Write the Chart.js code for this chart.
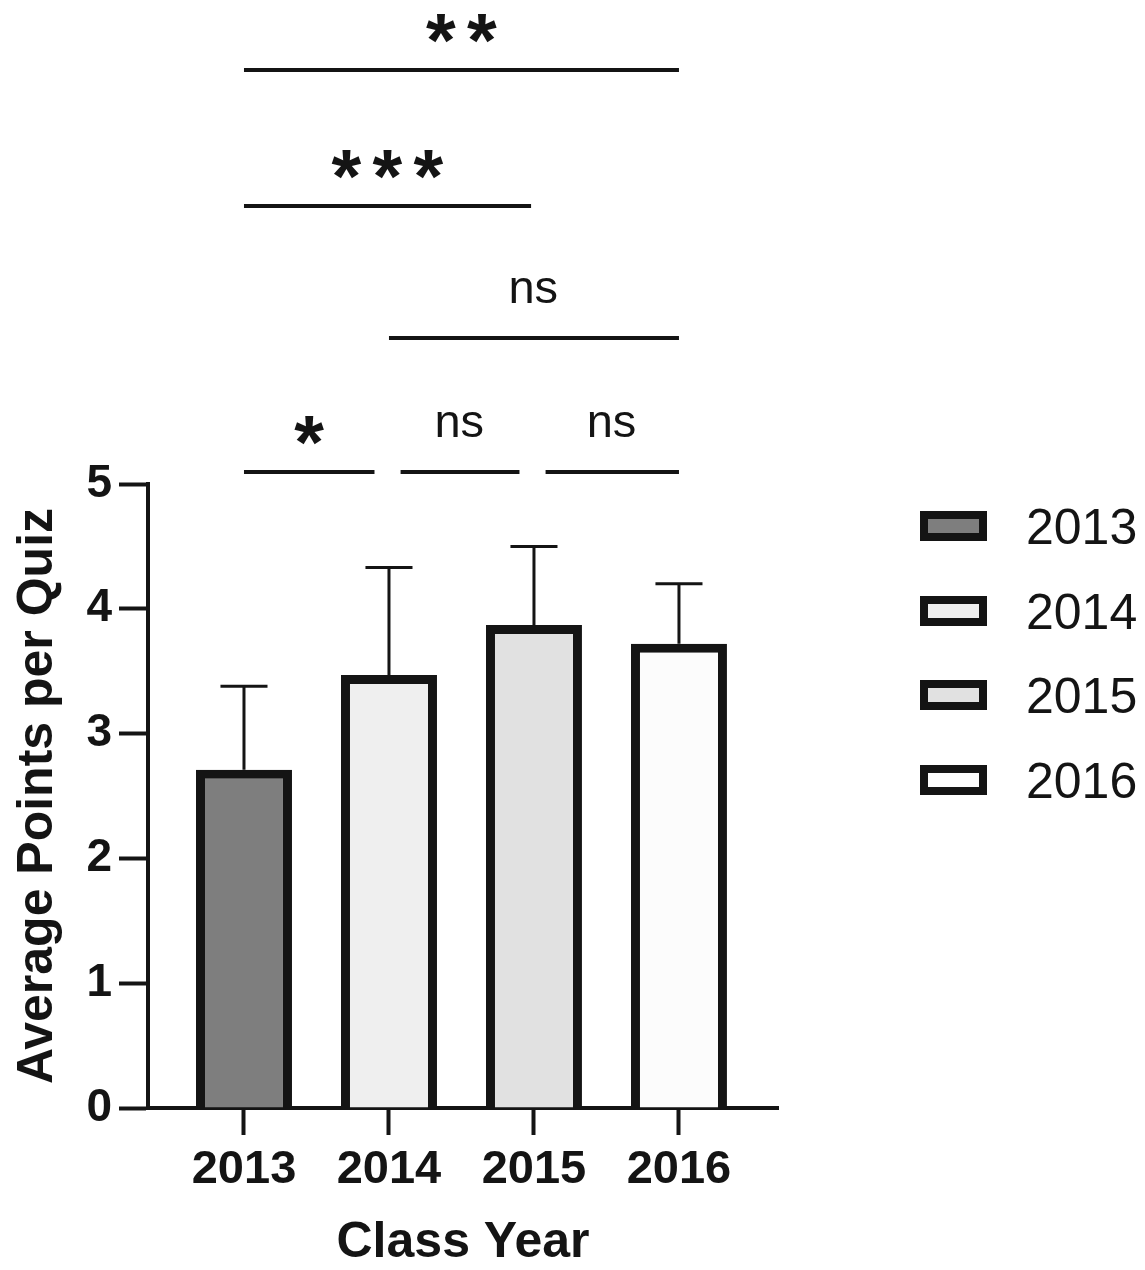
<!DOCTYPE html>
<html>
<head>
<meta charset="utf-8">
<script src="https://cdn.jsdelivr.net/npm/chart.js@4/dist/chart.umd.min.js"></script>
<style>
html,body{margin:0;padding:0;background:#ffffff;}
#wrap{width:1145px;height:1270px;position:relative;}
</style>
</head>
<body>
<div id="wrap"><canvas id="c" width="1145" height="1270"></canvas></div>
<script>
// ---- data ----
const years = ['2013', '2014', '2015', '2016'];
const means = [2.71, 3.47, 3.87, 3.72];
const errs = [0.67, 0.86, 0.63, 0.48];
const fills = ['#7e7e7e', '#efefef', '#e1e1e1', '#fcfcfc'];
const yTicks = [0, 1, 2, 3, 4, 5];
// significance comparisons (positions in category units / value units)
const sigLabels = ['*', 'ns', 'ns', 'ns', '***', '**'];
const sigFrom = [0, 1.08, 2.08, 1, 0, 0];
const sigTo = [0.9, 1.9, 3, 3, 1.98, 3];
const sigLevel = [5.10, 5.10, 5.10, 6.17, 7.23, 8.32];

const FONT = '"Liberation Sans", Arial, Helvetica, sans-serif';
const INK = '#141414';

function drawCenteredGlyphs(ctx, text, cx, cy) {
  const m = ctx.measureText(text);
  const y = cy + (m.actualBoundingBoxAscent - m.actualBoundingBoxDescent) / 2;
  const x = cx + (m.actualBoundingBoxLeft - m.actualBoundingBoxRight) / 2;
  ctx.textAlign = 'left';
  ctx.textBaseline = 'alphabetic';
  ctx.fillText(text, x, y);
}

const errorBars = {
  id: 'errorBars',
  afterDatasetsDraw(chart) {
    const ctx = chart.ctx;
    const ys = chart.scales.y;
    const meta = chart.getDatasetMeta(0);
    ctx.save();
    ctx.strokeStyle = INK;
    ctx.lineWidth = 3;
    meta.data.forEach((bar, i) => {
      const top = ys.getPixelForValue(means[i] + errs[i]);
      const half = bar.width * 0.245;
      ctx.beginPath();
      ctx.moveTo(bar.x, bar.y);
      ctx.lineTo(bar.x, top);
      ctx.moveTo(bar.x - half, top);
      ctx.lineTo(bar.x + half, top);
      ctx.stroke();
    });
    ctx.restore();
  }
};

const significance = {
  id: 'significance',
  afterDraw(chart) {
    const ctx = chart.ctx;
    const xs = chart.scales.x, ys = chart.scales.y;
    ctx.save();
    ctx.strokeStyle = INK;
    ctx.fillStyle = INK;
    ctx.lineWidth = 4;
    sigLabels.forEach((lab, i) => {
      const x1 = xs.getPixelForValue(sigFrom[i]);
      const x2 = xs.getPixelForValue(sigTo[i]);
      const y = Math.round(ys.getPixelForValue(sigLevel[i]));
      ctx.beginPath();
      ctx.moveTo(x1, y);
      ctx.lineTo(x2, y);
      ctx.stroke();
      const cx = (x1 + x2) / 2;
      if (lab.startsWith('*')) {
        ctx.font = 'bold 100px ' + FONT;
        const m = ctx.measureText('*');
        const h = m.actualBoundingBoxAscent + m.actualBoundingBoxDescent;
        const size = 100 * 29 / h;
        ctx.font = 'bold ' + size.toFixed(1) + 'px ' + FONT;
        const n = lab.length;
        for (let k = 0; k < n; k++) {
          const gx = cx + (k - (n - 1) / 2) * 41;
          drawCenteredGlyphs(ctx, '*', gx, y - 42);
        }
      } else {
        ctx.font = '47px ' + FONT;
        drawCenteredGlyphs(ctx, lab, cx, y - 48);
      }
    });
    ctx.restore();
  }
};

const customLegend = {
  id: 'customLegend',
  afterDraw(chart) {
    const ctx = chart.ctx;
    const boxX = 920, boxW = 67, boxH = 30, border = 8;
    const y0 = 526, step = 84.7;
    ctx.save();
    ctx.font = '50px ' + FONT;
    years.forEach((lab, i) => {
      const cy = y0 + i * step;
      const top = Math.round(cy - boxH / 2);
      ctx.fillStyle = INK;
      ctx.fillRect(boxX, top, boxW, boxH);
      ctx.fillStyle = fills[i];
      ctx.fillRect(boxX + border, top + border, boxW - 2 * border, boxH - 2 * border);
      ctx.fillStyle = INK;
      const m = ctx.measureText(lab);
      ctx.textAlign = 'left';
      ctx.textBaseline = 'alphabetic';
      ctx.fillText(lab, 1026, cy + (m.actualBoundingBoxAscent - m.actualBoundingBoxDescent) / 2);
    });
    ctx.restore();
  }
};

new Chart(document.getElementById('c').getContext('2d'), {
  type: 'bar',
  data: {
    datasets: [{
      data: years.map((y, i) => ({ x: i, y: means[i] })),
      backgroundColor: fills,
      borderColor: INK,
      borderWidth: 9,
      barPercentage: 0.662,
      categoryPercentage: 1
    }]
  },
  options: {
    responsive: false,
    animation: false,
    events: [],
    layout: { padding: { top: 484, right: 367, left: 0, bottom: 0 } },
    plugins: { legend: { display: false }, tooltip: { enabled: false }, title: { display: false } },
    scales: {
      x: {
        type: 'linear',
        min: -0.662,
        max: 3.683,
        offset: false,
        afterBuildTicks: (s) => { s.ticks = years.map((_, i) => ({ value: i })); },
        afterFit: (s) => { s.height = 162; },
        grid: { display: true, offset: false, drawOnChartArea: false, drawTicks: true, tickLength: 27, tickWidth: 4, tickColor: INK },
        border: { display: true, width: 4, color: INK },
        ticks: {
          callback: (v) => years[v],
          font: { family: FONT, size: 47, weight: 'bold', lineHeight: 1 },
          color: INK, padding: 12, maxRotation: 0, autoSkip: false
        },
        title: {
          display: true, text: 'Class Year',
          font: { family: FONT, size: 50, weight: 'bold', lineHeight: 1 },
          color: INK, padding: { top: 0, bottom: 2 }
        }
      },
      y: {
        type: 'linear',
        min: 0,
        max: 5,
        afterBuildTicks: (s) => { s.ticks = yTicks.map(v => ({ value: v })); },
        afterFit: (s) => { s.width = 148; },
        grid: { display: true, drawOnChartArea: false, drawTicks: true, tickLength: 29, tickWidth: 4, tickColor: INK },
        border: { display: true, width: 4, color: INK },
        ticks: {
          font: { family: FONT, size: 46, weight: 'bold', lineHeight: 1 },
          color: INK, padding: 7
        },
        title: {
          display: true, text: 'Average Points per Quiz',
          font: { family: FONT, size: 50, weight: 'bold', lineHeight: 1 },
          color: INK, padding: { top: 13, bottom: 0 }
        }
      }
    }
  },
  plugins: [errorBars, significance, customLegend]
});
</script>
</body>
</html>
